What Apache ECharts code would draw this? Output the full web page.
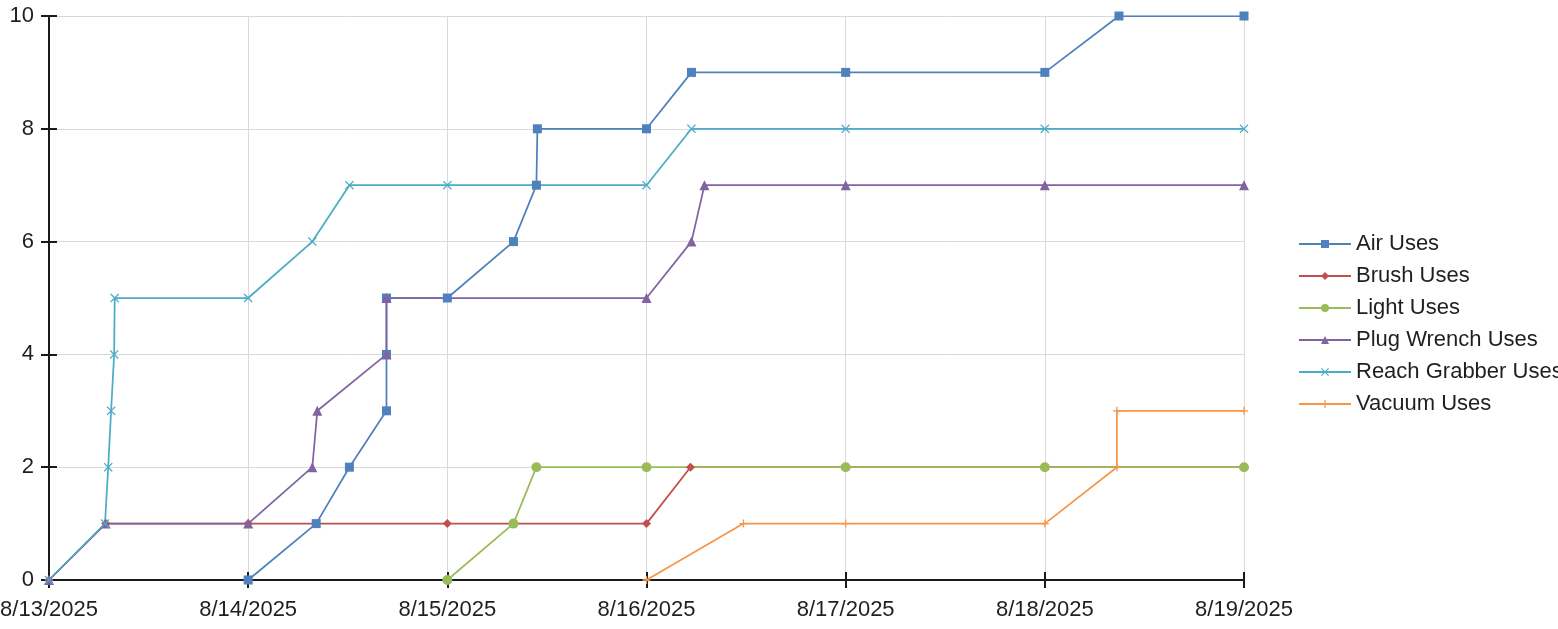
<!DOCTYPE html>
<html>
<head>
<meta charset="utf-8">
<title>Tool Uses</title>
<script src="https://cdn.jsdelivr.net/npm/echarts@6/dist/echarts.min.js"></script>
<style>
  html, body { margin: 0; padding: 0; background: #ffffff; }
  #chart { width: 1558px; height: 629px; }
</style>
</head>
<body>
<div id="chart"></div>
<script>
// Cumulative tool uses, timestamps as "M/D HH:MM" (2025)
const airTimes = ['8/14 00:00', '8/14 08:12', '8/14 12:12', '8/14 16:40', '8/14 16:40', '8/14 16:40', '8/15 00:00', '8/15 07:58', '8/15 10:44', '8/15 10:51', '8/16 00:00', '8/16 05:25', '8/17 00:00', '8/18 00:00', '8/18 08:56', '8/19 00:00'];
const airValues = [0, 1, 2, 3, 4, 5, 5, 6, 7, 8, 8, 9, 9, 9, 10, 10];

const brushTimes = ['8/13 00:00', '8/13 06:50', '8/14 00:00', '8/15 00:00', '8/16 00:00', '8/16 05:18', '8/17 00:00', '8/18 00:00', '8/19 00:00'];
const brushValues = [0, 1, 1, 1, 1, 2, 2, 2, 2];

const lightTimes = ['8/15 00:00', '8/15 07:58', '8/15 10:44', '8/16 00:00', '8/17 00:00', '8/18 00:00', '8/19 00:00'];
const lightValues = [0, 1, 2, 2, 2, 2, 2];

const plugTimes = ['8/13 00:00', '8/13 06:50', '8/14 00:00', '8/14 07:44', '8/14 08:20', '8/14 16:40', '8/14 16:40', '8/16 00:00', '8/16 05:25', '8/16 06:59', '8/17 00:00', '8/18 00:00', '8/19 00:00'];
const plugValues = [0, 1, 1, 2, 3, 4, 5, 5, 6, 7, 7, 7, 7];

const reachTimes = ['8/13 00:00', '8/13 06:45', '8/13 07:08', '8/13 07:29', '8/13 07:51', '8/13 07:55', '8/14 00:00', '8/14 07:44', '8/14 12:12', '8/15 00:00', '8/16 00:00', '8/16 05:25', '8/17 00:00', '8/18 00:00', '8/19 00:00'];
const reachValues = [0, 1, 2, 3, 4, 5, 5, 6, 7, 7, 7, 8, 8, 8, 8];

const vacuumTimes = ['8/16 00:00', '8/16 11:41', '8/17 00:00', '8/18 00:00', '8/18 08:41', '8/18 08:41', '8/19 00:00'];
const vacuumValues = [0, 1, 1, 1, 2, 3, 3];

const seriesNames = ['Air Uses', 'Brush Uses', 'Light Uses', 'Plug Wrench Uses', 'Reach Grabber Uses', 'Vacuum Uses'];
const seriesColors = ['#4f81bd', '#c0504d', '#9bbb59', '#8064a2', '#4bacc6', '#f79646'];

const YEAR = 2025;
const START_MS = Date.UTC(YEAR, 7, 13);
const DAY_MS = 86400000;

// "M/D HH:MM" -> fractional days since 8/13
function toDays(s) {
  const [md, hm] = s.split(' ');
  const [m, d] = md.split('/').map(Number);
  const [h, mi] = hm.split(':').map(Number);
  return (Date.UTC(YEAR, m - 1, d, h, mi) - START_MS) / DAY_MS;
}
function pairs(times, values) {
  return times.map((t, i) => [toDays(t), values[i]]);
}
function dayLabel(v) {
  const d = new Date(START_MS + Math.round(v) * DAY_MS);
  return (d.getUTCMonth() + 1) + '/' + d.getUTCDate() + '/' + d.getUTCFullYear();
}

const crossSymbol = 'path://M1,0L5,4L9,0L10,1L6,5L10,9L9,10L5,6L1,10L0,9L4,5L0,1Z';
const plusSymbol = 'path://M4.2,0H5.8V4.2H10V5.8H5.8V10H4.2V5.8H0V4.2H4.2Z';

const seriesData = [
  { data: pairs(airTimes, airValues), symbol: 'rect', size: 9 },
  { data: pairs(brushTimes, brushValues), symbol: 'diamond', size: 9 },
  { data: pairs(lightTimes, lightValues), symbol: 'circle', size: 10 },
  { data: pairs(plugTimes, plugValues), symbol: 'triangle', size: 10 },
  { data: pairs(reachTimes, reachValues), symbol: crossSymbol, size: 9 },
  { data: pairs(vacuumTimes, vacuumValues), symbol: plusSymbol, size: 8 }
];

const fontFamily = 'Liberation Sans, Arial, sans-serif';
const labelFont = { fontFamily: fontFamily, fontSize: 22, color: '#1f1f1f' };
const axisDark = '#1a1a1a';
const gridGray = '#d9d9d9';

const chart = echarts.init(document.getElementById('chart'), null, { renderer: 'canvas' });
chart.setOption({
  animation: false,
  backgroundColor: '#ffffff',
  grid: { left: 49, right: 314, top: 16, bottom: 49, containLabel: false, outerBoundsMode: 'none' },
  legend: {
    orient: 'vertical',
    left: 1298,
    top: 233,
    padding: 0,
    itemWidth: 52,
    itemHeight: 10,
    itemGap: 10,
    data: seriesNames,
    textStyle: { fontFamily: fontFamily, fontSize: 22, color: '#1f1f1f', lineHeight: 22 }
  },
  xAxis: [
    {
      type: 'value', min: 0, max: 6, interval: 1,
      axisLine: { show: true, onZero: false, lineStyle: { color: axisDark, width: 2 } },
      axisTick: { show: true, length: 8, lineStyle: { color: axisDark, width: 2 } },
      axisLabel: Object.assign({ margin: 19, formatter: dayLabel }, labelFont),
      splitLine: { show: true, lineStyle: { color: gridGray, width: 1 } }
    },
    {
      type: 'value', min: 0, max: 6, interval: 1, position: 'bottom',
      axisLine: { show: false },
      axisTick: { show: true, inside: true, length: 8, lineStyle: { color: axisDark, width: 2 } },
      axisLabel: { show: false },
      splitLine: { show: false }
    }
  ],
  yAxis: [
    {
      type: 'value', min: 0, max: 10, interval: 2,
      axisLine: { show: true, lineStyle: { color: axisDark, width: 2 } },
      axisTick: { show: true, length: 8, lineStyle: { color: axisDark, width: 2 } },
      axisLabel: Object.assign({ margin: 15 }, labelFont),
      splitLine: { show: true, lineStyle: { color: gridGray, width: 1 } }
    },
    {
      type: 'value', min: 0, max: 10, interval: 2, position: 'left',
      axisLine: { show: false },
      axisTick: { show: true, inside: true, length: 8, lineStyle: { color: axisDark, width: 2 } },
      axisLabel: { show: false },
      splitLine: { show: false }
    }
  ],
  series: seriesData.map((s, i) => ({
    name: seriesNames[i],
    type: 'line',
    xAxisIndex: 0,
    yAxisIndex: 0,
    data: s.data,
    symbol: s.symbol,
    symbolSize: s.size,
    showAllSymbol: true,
    color: seriesColors[i],
    lineStyle: { color: seriesColors[i], width: 1.75 },
    itemStyle: { color: seriesColors[i] },
    emphasis: { disabled: true }
  }))
});
</script>
</body>
</html>
